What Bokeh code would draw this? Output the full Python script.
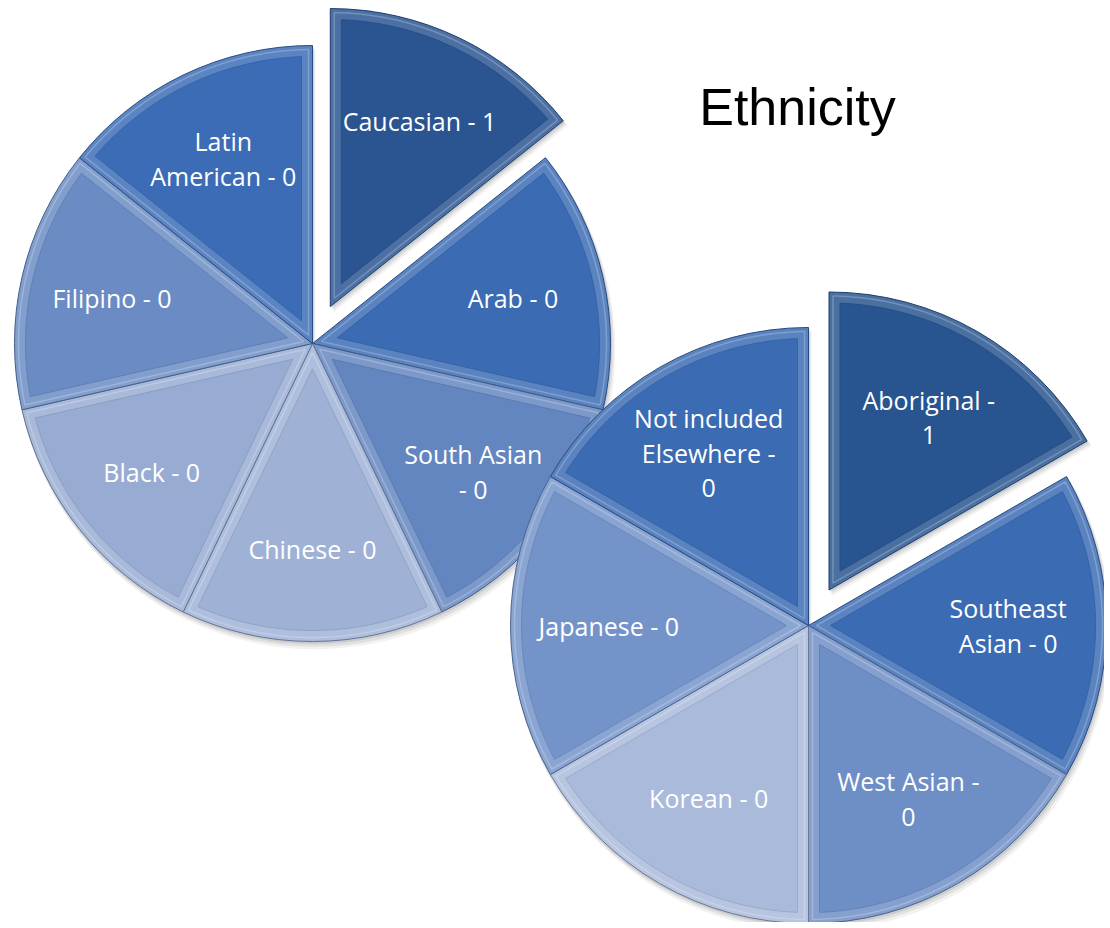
import numpy as np
from bokeh.plotting import figure
from bokeh.models import Range1d
from bokeh.embed import file_html
from bokeh.resources import INLINE
from bokeh.core.properties import value

# ---------------- data ----------------
title_text = "Ethnicity"

left_categories = ["Caucasian", "Arab", "South Asian", "Chinese", "Black", "Filipino", "Latin American"]
left_counts = [1, 0, 0, 0, 0, 0, 0]
left_labels = ["Caucasian - 1", "Arab - 0", "South Asian\n- 0", "Chinese - 0",
               "Black - 0", "Filipino - 0", "Latin\nAmerican - 0"]
left_shares = [1, 1, 1, 1, 1, 1, 1]          # slice sizes as drawn (equal)
left_explode = [1, 0, 0, 0, 0, 0, 0]
left_colors = ["#2a5591", "#3a6bb3", "#6386c0", "#9fb2d6", "#98acd3", "#6a8bc3", "#3c6cb6"]

right_categories = ["Aboriginal", "Southeast Asian", "West Asian", "Korean", "Japanese",
                    "Not included Elsewhere"]
right_counts = [1, 0, 0, 0, 0, 0]
right_labels = ["Aboriginal -\n1", "Southeast\nAsian - 0", "West Asian -\n0", "Korean - 0",
                "Japanese - 0", "Not included\nElsewhere -\n0"]
right_shares = [1, 1, 1, 1, 1, 1]
right_explode = [1, 0, 0, 0, 0, 0]
right_colors = ["#28548f", "#3a6bb3", "#6e8ec6", "#a9badb", "#7494c9", "#3a6bb3"]

# ---------------- figure ----------------
W, H = 1104, 922
p = figure(width=W, height=H, output_backend="svg", toolbar_location=None,
           x_range=Range1d(0, W), y_range=Range1d(928 - H, 928),
           min_border=0, background_fill_color="white", border_fill_color="white")
p.axis.visible = False
p.grid.visible = False
p.outline_line_color = None


def mix(hexcol, other, t):
    c = np.array([int(hexcol[i:i + 2], 16) for i in (1, 3, 5)], dtype=float)
    o = np.array([int(other[i:i + 2], 16) for i in (1, 3, 5)], dtype=float)
    r = c * (1 - t) + o * t
    return "#%02x%02x%02x" % tuple(int(round(v)) for v in r)


def inset_wedge(cx, cy, R, a0, a1, d, n=80):
    h = (a1 - a0) / 2.0
    mid = (a0 + a1) / 2.0
    ad = d / np.sin(h)
    ax, ay = cx + ad * np.cos(mid), cy + ad * np.sin(mid)
    rin = R - d
    dl = np.arcsin(d / rin)
    ang = np.linspace(a0 + dl, a1 - dl, n)
    xs = np.concatenate([[ax], cx + rin * np.cos(ang)])
    ys = np.concatenate([[ay], cy + rin * np.sin(ang)])
    return xs, ys


def draw_pie(cx, cy, R, shares, explode, colors, labels, label_frac, expl_dist):
    total = float(sum(shares))
    cum = np.concatenate([[0], np.cumsum(shares)])
    starts = np.deg2rad(90 - cum[:-1] / total * 360)   # clockwise from top
    ends = np.deg2rad(90 - cum[1:] / total * 360)
    mids = (starts + ends) / 2
    xs_c = cx + np.array(explode) * expl_dist * np.cos(mids)
    ys_c = cy + np.array(explode) * expl_dist * np.sin(mids)

    # soft shadow
    for k, alpha in ((6, 0.05), (4, 0.07), (2, 0.09)):
        p.wedge(x=list(xs_c + k * 0.5), y=list(ys_c - k), radius=R + k * 0.3,
                start_angle=list(ends), end_angle=list(starts),
                fill_color="#000000", fill_alpha=alpha, line_color=None)

    # outer bevel (lighter rim)
    rims = [mix(c, "#ffffff", 0.16) for c in colors]
    outl = [mix(c, "#0a1a33", 0.40) for c in colors]
    p.wedge(x=list(xs_c), y=list(ys_c), radius=R,
            start_angle=list(ends), end_angle=list(starts),
            fill_color=rims, line_color=outl, line_width=1.0)

    # bevel highlight line
    fx0, fy0 = [], []
    for i in range(len(shares)):
        x_, y_ = inset_wedge(xs_c[i], ys_c[i], R, ends[i], starts[i], 4)
        fx0.append(list(x_))
        fy0.append(list(y_))
    p.patches(xs=fx0, ys=fy0, fill_color=None,
              line_color=[mix(c, "#ffffff", 0.35) for c in colors], line_width=1.5)

    # inner face
    fx, fy, faces, seams = [], [], [], []
    for i in range(len(shares)):
        x_, y_ = inset_wedge(xs_c[i], ys_c[i], R, ends[i], starts[i], 11)
        fx.append(list(x_))
        fy.append(list(y_))
        faces.append(colors[i])
        seams.append(mix(colors[i], "#0a1a33", 0.10))
    p.patches(xs=fx, ys=fy, fill_color=faces, line_color=seams, line_width=1.0)

    # labels
    lx = list(xs_c + label_frac * R * np.cos(mids))
    ly = list(ys_c + label_frac * R * np.sin(mids))
    p.text(x=lx, y=ly, text=labels, text_color="white",
           text_font=value("Open Sans"), text_font_size="25px",
           text_align="center", text_baseline="middle", text_line_height=1.02)


R = 298
draw_pie(312, 928 - 343, R, left_shares, left_explode, left_colors, left_labels, 0.69, 41)
draw_pie(808, 928 - 625, R, right_shares, right_explode, right_colors, right_labels, 0.67, 41)

p.text(x=[797], y=[928 - 106], text=[title_text], text_color="black",
       text_font=value("Liberation Sans"), text_font_size="52px",
       text_align="center", text_baseline="middle")

open("out.html", "w").write(file_html(p, INLINE))
